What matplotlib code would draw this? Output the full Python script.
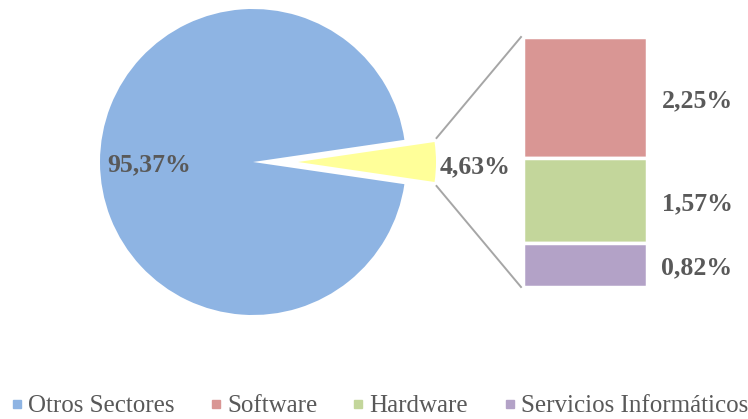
import numpy as np
import matplotlib
matplotlib.use('Agg')
from matplotlib import pyplot
from matplotlib.lines import Line2D

# data
pie_labels = ['Otros Sectores', 'TIC']
pie_values = [95.37, 4.63]
bar_labels = ['Software', 'Hardware', 'Servicios Informáticos']
bar_values = [2.25, 1.57, 0.82]

pie_colors = ['#8EB4E3', '#FFFF99']
bar_colors = ['#D99694', '#C3D69B', '#B3A2C7']
text_color = '#595959'


def fmt(v):
    return ('%.2f%%' % v).replace('.', ',')


def main():
    pyplot.rcParams['font.family'] = ['Liberation Serif', 'DejaVu Serif']

    fig = pyplot.figure(figsize=(7.48, 4.19), dpi=100)
    ax = fig.add_axes([0, 0, 1, 1])
    ax.axis('off')

    # pie in pixel coordinates (explode is in data units here)
    cx, cy, r = 253, 162, 153
    half = pie_values[1] * 3.6 / 2
    wedges, _ = ax.pie(pie_values, colors=pie_colors, startangle=half,
                       center=(cx, cy), radius=r, explode=[0, 45],
                       wedgeprops=dict(linewidth=0))
    wedges[1].set_radius(138)
    ax.set_xlim(0, 748)
    ax.set_ylim(419, 0)

    ax.text(149, 165, fmt(pie_values[0]), ha='center', va='center',
            fontsize=18.5, fontweight='bold', color=text_color)
    ax.text(475, 167, fmt(pie_values[1]), ha='center', va='center',
            fontsize=18.5, fontweight='bold', color=text_color)

    # stacked bar
    bx0, bx1, by0, by1 = 523, 647, 37, 287
    bax = fig.add_axes([bx0 / 748, 1 - by1 / 419, (bx1 - bx0) / 748, (by1 - by0) / 419])
    total = sum(bar_values)
    bottoms = total - np.cumsum(bar_values)
    bax.bar([0] * 3, bar_values, bottom=bottoms, width=1, color=bar_colors,
            edgecolor='white', linewidth=2.5)
    bax.set_xlim(-0.5, 0.5)
    bax.set_ylim(0, total)
    bax.axis('off')
    for v, b in zip(bar_values, bottoms):
        bax.annotate(fmt(v), (0.5, b + v / 2), xytext=(50, -3),
                     textcoords='offset pixels', ha='center', va='center',
                     fontsize=18.5, fontweight='bold', color=text_color,
                     annotation_clip=False)

    # connector lines
    sx = cx + 45 + 138 * np.cos(np.radians(half)) + 2
    dy = 138 * np.sin(np.radians(half)) + 4
    ax.plot([sx, bx0 - 2], [cy - dy, by0], color='#A6A6A6', lw=1.4)
    ax.plot([sx, bx0 - 2], [cy + dy, by1], color='#A6A6A6', lw=1.4)

    # legend
    names = [pie_labels[0]] + bar_labels
    cols = [pie_colors[0]] + bar_colors
    handles = [Line2D([], [], marker='s', ls='', color=c, markersize=5.5) for c in cols]
    fig.legend(handles, names, loc='lower center', bbox_to_anchor=(0.507, -0.05),
               ncol=4, frameon=False, fontsize=18, handlelength=0.5,
               handletextpad=0.2, columnspacing=1.4, labelcolor=text_color)

    fig.savefig('out.png', dpi=100)


if __name__ == '__main__':
    main()
